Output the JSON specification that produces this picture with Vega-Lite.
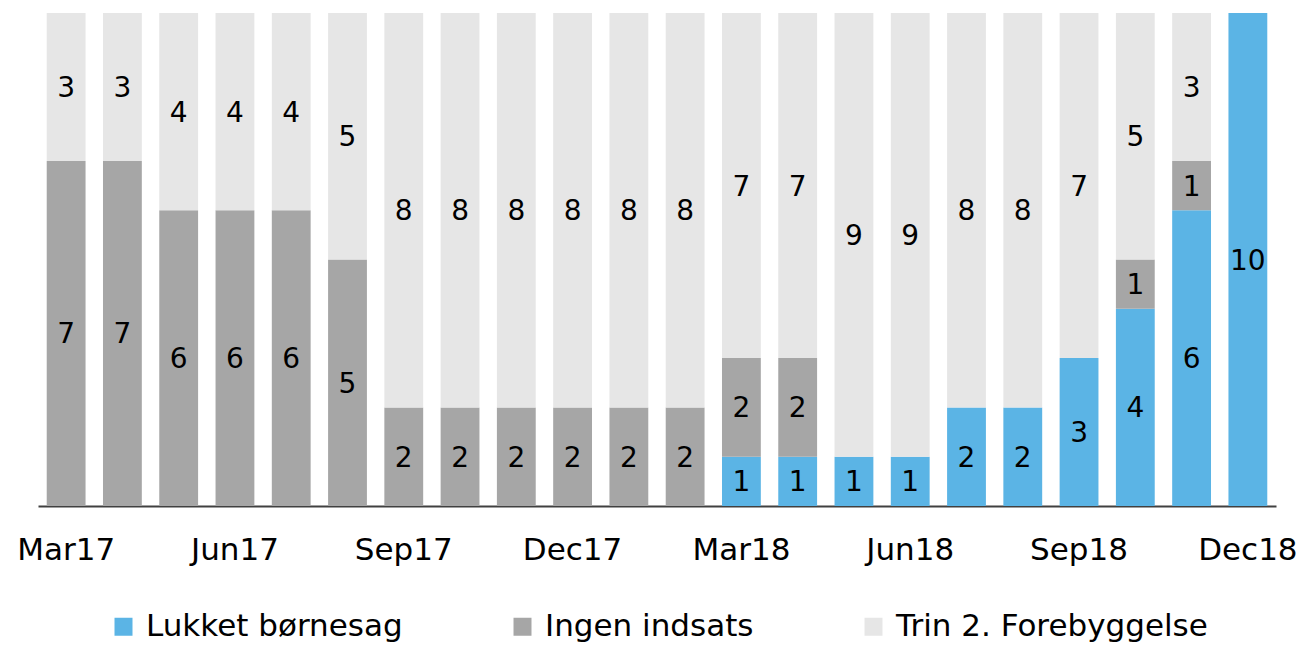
{
  "$schema": "https://vega.github.io/schema/vega-lite/v6.json",
  "autosize": {"type": "none"},
  "padding": {"left": 38, "top": 13, "right": 30, "bottom": 139},
  "width": 1238,
  "height": 493,
  "background": "white",
  "config": {"view": {"stroke": null}, "font": "DejaVu Sans"},
  "data": {"values": [
    {"month": "Mar17", "series": "Ingen indsats", "nr": 2, "value": 7},
    {"month": "Mar17", "series": "Trin 2. Forebyggelse", "nr": 3, "value": 3},
    {"month": "Apr17", "series": "Ingen indsats", "nr": 2, "value": 7},
    {"month": "Apr17", "series": "Trin 2. Forebyggelse", "nr": 3, "value": 3},
    {"month": "May17", "series": "Ingen indsats", "nr": 2, "value": 6},
    {"month": "May17", "series": "Trin 2. Forebyggelse", "nr": 3, "value": 4},
    {"month": "Jun17", "series": "Ingen indsats", "nr": 2, "value": 6},
    {"month": "Jun17", "series": "Trin 2. Forebyggelse", "nr": 3, "value": 4},
    {"month": "Jul17", "series": "Ingen indsats", "nr": 2, "value": 6},
    {"month": "Jul17", "series": "Trin 2. Forebyggelse", "nr": 3, "value": 4},
    {"month": "Aug17", "series": "Ingen indsats", "nr": 2, "value": 5},
    {"month": "Aug17", "series": "Trin 2. Forebyggelse", "nr": 3, "value": 5},
    {"month": "Sep17", "series": "Ingen indsats", "nr": 2, "value": 2},
    {"month": "Sep17", "series": "Trin 2. Forebyggelse", "nr": 3, "value": 8},
    {"month": "Oct17", "series": "Ingen indsats", "nr": 2, "value": 2},
    {"month": "Oct17", "series": "Trin 2. Forebyggelse", "nr": 3, "value": 8},
    {"month": "Nov17", "series": "Ingen indsats", "nr": 2, "value": 2},
    {"month": "Nov17", "series": "Trin 2. Forebyggelse", "nr": 3, "value": 8},
    {"month": "Dec17", "series": "Ingen indsats", "nr": 2, "value": 2},
    {"month": "Dec17", "series": "Trin 2. Forebyggelse", "nr": 3, "value": 8},
    {"month": "Jan18", "series": "Ingen indsats", "nr": 2, "value": 2},
    {"month": "Jan18", "series": "Trin 2. Forebyggelse", "nr": 3, "value": 8},
    {"month": "Feb18", "series": "Ingen indsats", "nr": 2, "value": 2},
    {"month": "Feb18", "series": "Trin 2. Forebyggelse", "nr": 3, "value": 8},
    {"month": "Mar18", "series": "Lukket børnesag", "nr": 1, "value": 1},
    {"month": "Mar18", "series": "Ingen indsats", "nr": 2, "value": 2},
    {"month": "Mar18", "series": "Trin 2. Forebyggelse", "nr": 3, "value": 7},
    {"month": "Apr18", "series": "Lukket børnesag", "nr": 1, "value": 1},
    {"month": "Apr18", "series": "Ingen indsats", "nr": 2, "value": 2},
    {"month": "Apr18", "series": "Trin 2. Forebyggelse", "nr": 3, "value": 7},
    {"month": "May18", "series": "Lukket børnesag", "nr": 1, "value": 1},
    {"month": "May18", "series": "Trin 2. Forebyggelse", "nr": 3, "value": 9},
    {"month": "Jun18", "series": "Lukket børnesag", "nr": 1, "value": 1},
    {"month": "Jun18", "series": "Trin 2. Forebyggelse", "nr": 3, "value": 9},
    {"month": "Jul18", "series": "Lukket børnesag", "nr": 1, "value": 2},
    {"month": "Jul18", "series": "Trin 2. Forebyggelse", "nr": 3, "value": 8},
    {"month": "Aug18", "series": "Lukket børnesag", "nr": 1, "value": 2},
    {"month": "Aug18", "series": "Trin 2. Forebyggelse", "nr": 3, "value": 8},
    {"month": "Sep18", "series": "Lukket børnesag", "nr": 1, "value": 3},
    {"month": "Sep18", "series": "Trin 2. Forebyggelse", "nr": 3, "value": 7},
    {"month": "Oct18", "series": "Lukket børnesag", "nr": 1, "value": 4},
    {"month": "Oct18", "series": "Ingen indsats", "nr": 2, "value": 1},
    {"month": "Oct18", "series": "Trin 2. Forebyggelse", "nr": 3, "value": 5},
    {"month": "Nov18", "series": "Lukket børnesag", "nr": 1, "value": 6},
    {"month": "Nov18", "series": "Ingen indsats", "nr": 2, "value": 1},
    {"month": "Nov18", "series": "Trin 2. Forebyggelse", "nr": 3, "value": 3},
    {"month": "Dec18", "series": "Lukket børnesag", "nr": 1, "value": 10}
  ]},
  "encoding": {
    "x": {
      "field": "month", "type": "nominal", "sort": null,
      "scale": {"paddingInner": 0.31, "paddingOuter": 0.155},
      "axis": {
        "title": null, "labelAngle": 0, "ticks": false, "grid": false,
        "values": ["Mar17", "Jun17", "Sep17", "Dec17", "Mar18", "Jun18", "Sep18", "Dec18"],
        "labelFontSize": 31, "labelColor": "black", "labelPadding": 29,
        "domainColor": "#404040", "domainWidth": 2
      }
    },
    "y": {
      "field": "value", "type": "quantitative", "stack": "zero",
      "scale": {"domain": [0, 10], "nice": false},
      "axis": null
    },
    "order": {"field": "nr", "type": "quantitative", "sort": "ascending"}
  },
  "layer": [
    {
      "mark": {"type": "bar"},
      "encoding": {
        "color": {
          "field": "series", "type": "nominal",
          "scale": {
            "domain": ["Lukket børnesag", "Ingen indsats", "Trin 2. Forebyggelse"],
            "range": ["#5BB4E5", "#A6A6A6", "#E6E6E6"]
          },
          "legend": {
            "title": null, "orient": "none", "direction": "horizontal",
            "legendX": 70, "legendY": 598,
            "symbolType": "square", "symbolSize": 324, "symbolStrokeWidth": 0,
            "labelFontSize": 31, "labelColor": "black", "labelOffset": 7,
            "columnPadding": 104, "labelLimit": 500
          }
        }
      }
    },
    {
      "mark": {"type": "text", "fontSize": 28, "color": "black", "baseline": "middle", "dy": 2},
      "encoding": {
        "y": {"field": "value", "type": "quantitative", "stack": "zero", "bandPosition": 0.5},
        "text": {"field": "value", "type": "quantitative"}
      }
    }
  ]
}
